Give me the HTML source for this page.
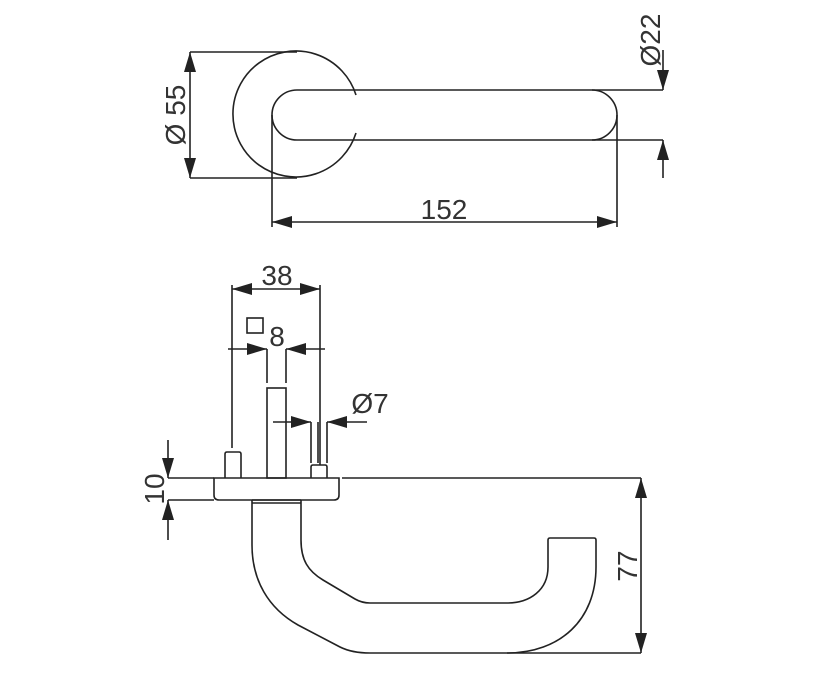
<!DOCTYPE html>
<html><head><style>body{margin:0;background:#fff}svg{display:block}text{font-family:"Liberation Sans",sans-serif;font-size:28px;fill:#333}</style></head><body>
<svg width="816" height="681" viewBox="0 0 816 681" xmlns="http://www.w3.org/2000/svg">
<defs><marker id="a" viewBox="0 0 20 12" refX="20" refY="6" markerWidth="20" markerHeight="12" markerUnits="userSpaceOnUse" orient="auto"><path d="M0,0L20,6L0,12z" fill="#222"/></marker></defs>
<g fill="none" stroke="#222" stroke-width="1.6">
<path d="M356,95 A63,63 0 1 0 356,133"/>
<path d="M297,90 H592 A25,25 0 0 1 592,140 H297 A25,25 0 0 1 297,90 Z"/>
<path d="M190,52 H297 M190,178 H297"/>
<path d="M190,115 V52" marker-end="url(#a)"/><path d="M190,115 V178" marker-end="url(#a)"/>
<path d="M592,90 H663 M592,140 H663"/>
<path d="M663,50 V90" marker-end="url(#a)"/><path d="M663,178 V140" marker-end="url(#a)"/>
<path d="M272,115 V227 M617,115 V227"/>
<path d="M444,222 H272" marker-end="url(#a)"/><path d="M444,222 H617" marker-end="url(#a)"/>
<path d="M232,285 V448 M320,285 V465"/>
<path d="M276,289 H232" marker-end="url(#a)"/><path d="M276,289 H320" marker-end="url(#a)"/>
<rect x="247" y="318" width="16" height="15"/>
<path d="M228,349 H267" marker-end="url(#a)"/><path d="M325,349 H286" marker-end="url(#a)"/>
<path d="M267,349 V383 M286,349 V383"/>
<rect x="267" y="388" width="19" height="90"/>
<path d="M273,422 H311" marker-end="url(#a)"/><path d="M367,422 H327" marker-end="url(#a)"/>
<path d="M311,422 V463 M318,422 V463 M327,422 V463"/>
<path d="M311,478 V467 Q311,465 313,465 H325 Q327,465 327,467 V478"/>
<path d="M225,478 V454 Q225,452 227,452 H239 Q241,452 241,454 V478"/>
<path d="M214,478 H339 V495 Q339,500 334,500 H219 Q214,500 214,495 Z"/>
<path d="M168,478 H214 M342,478 H641 M168,500 H214"/>
<path d="M168,440 V478" marker-end="url(#a)"/><path d="M168,540 V500" marker-end="url(#a)"/>
<path d="M252,500 H301 M252,503 H301" />
<path d="M252,500 V545 C252,580 268,608 298,625 L340,647 Q352,653 370,653 H507 C560,653 596,620 596,567 V540 Q596,538 594,538 H550 Q548,538 548,540 V567 C548,590 530,603 507,603 H370 Q362,603 355,599 L323,580 C308,571 301,560 301,540 V500"/>
<path d="M507,653 H641"/>
<path d="M641,566 V478" marker-end="url(#a)"/><path d="M641,566 V653" marker-end="url(#a)"/>
</g>
<g>
<text x="444" y="219" text-anchor="middle">152</text>
<text transform="translate(185,115) rotate(-90)" text-anchor="middle">Ø 55</text>
<text transform="translate(660,40) rotate(-90)" text-anchor="middle">Ø22</text>
<text x="277" y="285" text-anchor="middle">38</text>
<text x="277" y="346" text-anchor="middle">8</text>
<text x="370" y="413" text-anchor="middle">Ø7</text>
<text transform="translate(164,489) rotate(-90)" text-anchor="middle">10</text>
<text transform="translate(637,566) rotate(-90)" text-anchor="middle">77</text>
</g>
</svg>
</body></html>
